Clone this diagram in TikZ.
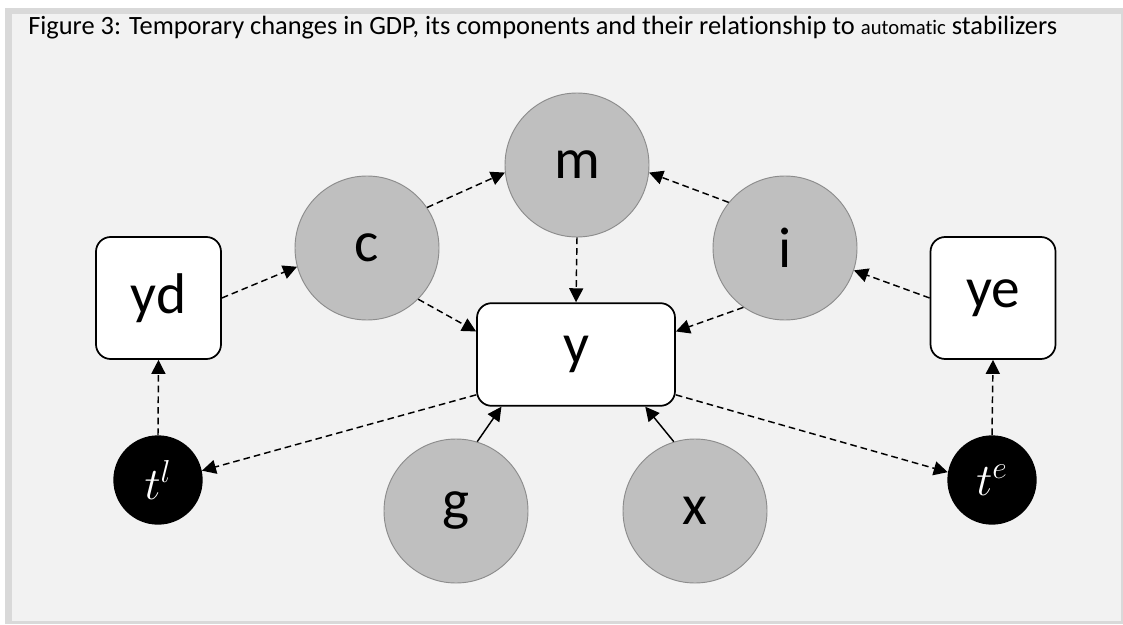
\RequirePackage{fix-cm}
\documentclass[tikz,border=0pt]{standalone}
\usepackage{fontspec}
\setmainfont{Carlito}[Ligatures=NoCommon]
\usetikzlibrary{arrows.meta}

\definecolor{framegray}{HTML}{D9D9D9}
\definecolor{panelgray}{HTML}{F2F2F2}
\definecolor{compgray}{HTML}{BFBFBF}
\definecolor{rimgray}{HTML}{8C8C8C}

\tikzset{
  comp/.style={circle,fill=compgray,draw=rimgray,line width=0.7pt,minimum size=108pt,inner sep=0pt,font=\fontsize{43}{43}\selectfont},
  tax/.style={circle,fill=black,minimum size=67pt,inner sep=0pt,text=white,font=\fontsize{34}{34}\selectfont},
  varbox/.style={rectangle,rounded corners=11pt,fill=white,draw=black,line width=1.3pt,inner sep=0pt,font=\fontsize{43}{43}\selectfont},
  link/.style={-{Triangle[length=10.5pt,width=10.5pt]},dash pattern=on 5pt off 3pt,line width=1.1pt},
  push/.style={-{Triangle[length=10.5pt,width=10.5pt]},line width=1.1pt}
}

\begin{document}
\begin{tikzpicture}[x=0.75pt,y=-0.75pt]
\fill[white] (0,0) rectangle (1123,624);
\fill[framegray] (5,8) rectangle (1123,624);
\fill[panelgray] (12,14) rectangle (1121,621);

\node[anchor=base west,inner sep=0pt,font=\fontsize{19.8}{22}\selectfont] (title) at (28,35) {Figure 3: Temporary changes in GDP, its components and their relationship to {\fontsize{15.5}{17}\selectfont automatic} stabilizers};

% components
\node[comp] (m) at (577,165) {m};
\node[comp] (c) at (367,248) {c};
\node[comp] (i) at (785,248) {i};
\node[comp] (g) at (456,511) {g};
\node[comp] (x) at (695,511) {x};

% income boxes
\node[varbox,minimum width=148.5pt,minimum height=77pt] (y) at (576,354.5) {y};
\node[varbox,minimum width=93.75pt,minimum height=91.5pt] (yd) at (158.5,298) {yd};
\node[varbox,minimum width=93.75pt,minimum height=91.5pt] (ye) at (993,298) {ye};

% taxes
\node[tax] (tl) at (158,480) {$t^{l}$};
\node[tax] (te) at (992,480) {$t^{e}$};

\draw[link] (yd.east) -- (c.195);
\draw[link] (c.34) -- (m.186);
\draw[link] (i.141) -- (m.-6);
\draw[link] (m.south) -- (y.north);
\draw[link] (c.-45) -- (y.167);
\draw[link] (i.235) -- (y.13);
\draw[link] (ye.west) -- (i.-18);
\draw[link] (tl.north) -- (yd.south);
\draw[link] (te.north) -- (ye.south);
\draw[link] (y.202) -- (tl.12);
\draw[link] (y.-22) -- (te.170);
\draw[push] (g.73) -- (y.215);
\draw[push] (x.107) -- (y.-37);
\end{tikzpicture}
\end{document}
